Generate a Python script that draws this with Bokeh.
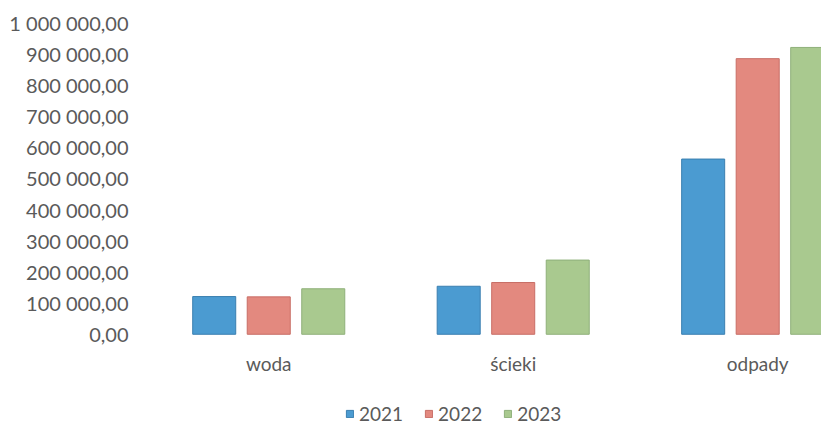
from bokeh.plotting import figure
from bokeh.models import Range1d, FixedTicker, Legend, LegendItem
from bokeh.embed import file_html
from bokeh.resources import INLINE

categories = ["woda", "ścieki", "odpady"]
years = ["2021", "2022", "2023"]
v2021 = [121000, 154000, 562000]
v2022 = [120000, 166000, 884000]
v2023 = [146000, 238000, 920000]
y_ticks = [0, 100000, 200000, 300000, 400000, 500000, 600000, 700000, 800000, 900000, 1000000]
y_tick_labels = ["0,00", "100 000,00", "200 000,00", "300 000,00", "400 000,00", "500 000,00",
                 "600 000,00", "700 000,00", "800 000,00", "900 000,00", "1 000 000,00"]

colors = ["#4b9bd1", "#e3897f", "#a9c98f"]
edges = ["#3a7fb0", "#c86e66", "#8fb07a"]
FONT = "Lato"
TXT = "#5a5a5a"

# frame spans the full lower area so the legend can sit below the category labels
p = figure(width=821, height=425, x_range=Range1d(-0.5, 2.261), y_range=Range1d(-292600, 1000000),
           output_backend="svg", toolbar_location=None,
           min_border_left=146, min_border_right=0, min_border_top=22, min_border_bottom=0)
p.outline_line_color = None
p.xgrid.visible = False
p.ygrid.visible = False

offsets = [-0.223, 0.0, 0.223]
series = [v2021, v2022, v2023]
renderers = []
for j, vals in enumerate(series):
    xs = [i + offsets[j] for i in range(len(categories))]
    r = p.vbar(x=xs, top=vals, bottom=0, width=0.176, fill_color=colors[j],
               line_color=edges[j], line_width=1)
    renderers.append(r)

p.yaxis.ticker = FixedTicker(ticks=y_ticks)
p.yaxis.major_label_overrides = {t: l for t, l in zip(y_ticks, y_tick_labels)}
p.yaxis.axis_line_color = None
p.yaxis.major_tick_line_color = None
p.yaxis.minor_tick_line_color = None
p.yaxis.major_tick_out = 0
p.yaxis.major_tick_in = 0
p.yaxis.major_label_standoff = 18
p.yaxis.major_label_text_font = FONT
p.yaxis.major_label_text_font_size = "20px"
p.yaxis.major_label_text_color = TXT

p.xaxis.fixed_location = 0
p.xaxis.ticker = FixedTicker(ticks=list(range(len(categories))))
p.xaxis.major_label_overrides = {i: c for i, c in enumerate(categories)}
p.xaxis.axis_line_color = None
p.xaxis.major_tick_line_color = None
p.xaxis.minor_tick_line_color = None
p.xaxis.major_tick_out = 0
p.xaxis.major_tick_in = 0
p.xaxis.major_label_standoff = 18
p.xaxis.major_label_text_font = FONT
p.xaxis.major_label_text_font_size = "19px"
p.xaxis.major_label_text_color = TXT

legend = Legend(items=[LegendItem(label=y, renderers=[r]) for y, r in zip(years, renderers)],
                location=(199, 0), orientation="horizontal")
legend.label_text_font = FONT
legend.label_text_font_size = "19px"
legend.label_text_color = TXT
legend.glyph_width = 9
legend.glyph_height = 9
legend.label_standoff = 5
legend.spacing = 21
legend.padding = 0
legend.margin = 0
legend.border_line_color = None
legend.background_fill_alpha = 0
p.add_layout(legend)

open("out.html", "w").write(file_html(p, INLINE))
